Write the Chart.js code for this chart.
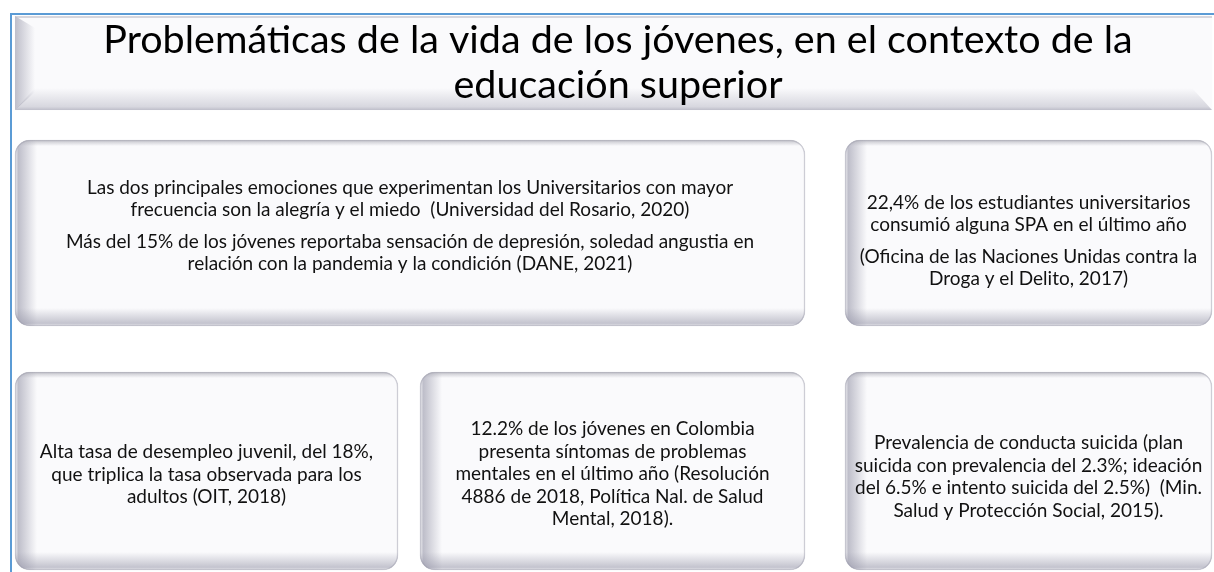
<!DOCTYPE html>
<html>
<head>
<meta charset="utf-8">
<script src="https://cdn.jsdelivr.net/npm/chart.js@4.4.1/dist/chart.umd.min.js"></script>
<style>
  html, body { margin: 0; background: #fff; }
  #wrap { width: 1214px; height: 572px; }
</style>
</head>
<body>
<div id="wrap"><canvas id="chart" width="1214" height="572"></canvas></div>
<script>
// Texts of the infographic
const titulo = ['Problemáticas de la vida de los jóvenes, en el contexto de la', 'educación superior'];

const filaSuperior = ['Emociones y depresión', 'Consumo de SPA'];
const textosSuperior = [
  [
    ['Las dos principales emociones que experimentan los Universitarios con mayor', 'frecuencia son la alegría y el miedo  (Universidad del Rosario, 2020)'],
    ['Más del 15% de los jóvenes reportaba sensación de depresión, soledad angustia en', 'relación con la pandemia y la condición (DANE, 2021)'],
  ],
  [
    ['22,4% de los estudiantes universitarios', 'consumió alguna SPA en el último año'],
    ['(Oficina de las Naciones Unidas contra la', 'Droga y el Delito, 2017)'],
  ],
];

const filaInferior = ['Desempleo juvenil', 'Salud mental', 'Conducta suicida'];
const textosInferior = [
  [['Alta tasa de desempleo juvenil, del 18%,', 'que triplica la tasa observada para los', 'adultos (OIT, 2018)']],
  [['12.2% de los jóvenes en Colombia', 'presenta síntomas de problemas', 'mentales en el último año (Resolución', '4886 de 2018, Política Nal. de Salud', 'Mental, 2018).']],
  [['Prevalencia de conducta suicida (plan', 'suicida con prevalencia del 2.3%; ideación', 'del 6.5% e intento suicida del 2.5%)  (Min.', 'Salud y Protección Social, 2015).']],
];

// Layout on the hidden pixel-like scales
const tituloCaja = { y: 63, h: 94, span: [15, 1212] };
const superior = { y: 233, h: 186, spans: [[15, 805], [845, 1212]], dy: [-1, 14] };
const inferior = { y: 471, h: 198, spans: [[15, 398], [420, 805], [845, 1212]], dy: [9.5, 9, 12] };

const FONT = 'Lato, "Open Sans", sans-serif';
const BODY_SIZE = 19;
const TITLE_SIZE = 39.5;
const LINE_H = 22.5;
const PARA_GAP = 9;

const boxFill = '#fafafc';
const shade = (a) => `rgba(150, 150, 168, ${a})`;

const drawText = (ctx, paras, cx, cy) => {
  let nLines = 0;
  paras.forEach((p) => (nLines += p.length));
  const total = (nLines - 1) * LINE_H + (paras.length - 1) * PARA_GAP;
  let y = cy - total / 2;
  ctx.font = `${BODY_SIZE}px ${FONT}`;
  ctx.fillStyle = '#111';
  ctx.textAlign = 'center';
  ctx.textBaseline = 'alphabetic';
  paras.forEach((p, i) => {
    if (i > 0) y += PARA_GAP;
    p.forEach((line) => {
      ctx.fillText(line, cx, y);
      y += LINE_H;
    });
  });
};

const bevel = (ctx, l, t, r, b, rad) => {
  ctx.save();
  ctx.beginPath();
  ctx.roundRect(l, t, r - l, b - t, rad);
  ctx.clip();
  let g = ctx.createLinearGradient(l, 0, l + 22, 0);
  g.addColorStop(0, shade(0.05));
  g.addColorStop(0.15, shade(0.6));
  g.addColorStop(1, shade(0));
  ctx.fillStyle = g;
  ctx.fillRect(l, t, 22, b - t);
  g = ctx.createLinearGradient(0, b, 0, b - 18);
  g.addColorStop(0, shade(0.1));
  g.addColorStop(0.15, shade(0.55));
  g.addColorStop(1, shade(0));
  ctx.fillStyle = g;
  ctx.fillRect(l, b - 18, r - l, 18);
  g = ctx.createLinearGradient(0, t, 0, t + 6);
  g.addColorStop(0, 'rgba(170,170,180,0.7)');
  g.addColorStop(1, 'rgba(170,170,180,0)');
  ctx.fillStyle = g;
  ctx.fillRect(l, t, r - l, 6);
  ctx.restore();
};

const tituloBevel = (ctx, l, t, r, b) => {
  ctx.save();
  // left chamfer
  let g = ctx.createLinearGradient(l, 0, l + 20, 0);
  g.addColorStop(0, shade(0.6));
  g.addColorStop(1, shade(0));
  ctx.fillStyle = g;
  ctx.beginPath();
  ctx.moveTo(l, t);
  ctx.lineTo(l + 20, t + 12);
  ctx.lineTo(l + 20, b - 18);
  ctx.lineTo(l, b);
  ctx.closePath();
  ctx.fill();
  // bottom
  g = ctx.createLinearGradient(0, b - 22, 0, b);
  g.addColorStop(0, shade(0));
  g.addColorStop(0.85, shade(0.35));
  g.addColorStop(1, shade(0.6));
  ctx.fillStyle = g;
  ctx.beginPath();
  ctx.moveTo(l, b);
  ctx.lineTo(l + 20, b - 22);
  ctx.lineTo(r - 20, b - 22);
  ctx.lineTo(r, b);
  ctx.closePath();
  ctx.fill();
  // top edge
  ctx.fillStyle = 'rgba(190,190,200,0.6)';
  ctx.fillRect(l, t, r - l, 2);
  ctx.restore();
};

const infografia = {
  id: 'infografia',
  beforeDatasetsDraw(chart) {
    const ctx = chart.ctx;
    ctx.save();
    ctx.strokeStyle = '#5b9bd5';
    ctx.lineWidth = 2;
    ctx.beginPath();
    ctx.moveTo(10, 14);
    ctx.lineTo(1214, 14);
    ctx.moveTo(11, 14);
    ctx.lineTo(11, 572);
    ctx.stroke();
    ctx.restore();
  },
  afterDatasetsDraw(chart) {
    const ctx = chart.ctx;
    const textos = [null, textosSuperior, textosInferior];
    const dys = [null, superior.dy, inferior.dy];
    chart.data.datasets.forEach((ds, di) => {
      chart.getDatasetMeta(di).data.forEach((bar, i) => {
        const { x, y, base, height } = bar.getProps(['x', 'y', 'base', 'height'], true);
        const l = Math.min(x, base), r = Math.max(x, base);
        const t = y - height / 2, b = y + height / 2;
        if (di === 0) {
          tituloBevel(ctx, l, t, r, b);
          ctx.font = `${TITLE_SIZE}px ${FONT}`;
          ctx.fillStyle = '#000';
          ctx.textAlign = 'center';
          ctx.textBaseline = 'alphabetic';
          ctx.fillText(titulo[0], 618, 53);
          ctx.fillText(titulo[1], 618, 98);
        } else {
          bevel(ctx, l, t, r, b, 15);
          drawText(ctx, textos[di][i], (l + r) / 2, y + dys[di][i]);
        }
      });
    });
  },
};

new Chart(document.getElementById('chart'), {
  type: 'bar',
  data: {
    datasets: [
      {
        label: 'Título',
        data: [{ x: tituloCaja.span, y: tituloCaja.y }],
        barThickness: tituloCaja.h,
        backgroundColor: boxFill,
        borderWidth: 0,
        grouped: false,
      },
      {
        label: 'Fila superior',
        data: filaSuperior.map((name, i) => ({ x: superior.spans[i], y: superior.y, name })),
        barThickness: superior.h,
        backgroundColor: boxFill,
        borderColor: 'rgba(200,200,208,0.9)',
        borderWidth: 1.5,
        borderRadius: 15,
        borderSkipped: false,
        grouped: false,
      },
      {
        label: 'Fila inferior',
        data: filaInferior.map((name, i) => ({ x: inferior.spans[i], y: inferior.y, name })),
        barThickness: inferior.h,
        backgroundColor: boxFill,
        borderColor: 'rgba(200,200,208,0.9)',
        borderWidth: 1.5,
        borderRadius: 15,
        borderSkipped: false,
        grouped: false,
      },
    ],
  },
  options: {
    indexAxis: 'y',
    responsive: false,
    animation: false,
    events: [],
    layout: { padding: 0 },
    scales: {
      x: { type: 'linear', min: 0, max: 1214, display: false },
      y: { type: 'linear', min: 0, max: 572, reverse: true, offset: false, display: false },
    },
    plugins: {
      legend: { display: false },
      tooltip: { enabled: false },
    },
  },
  plugins: [infografia],
});
</script>
</body>
</html>
